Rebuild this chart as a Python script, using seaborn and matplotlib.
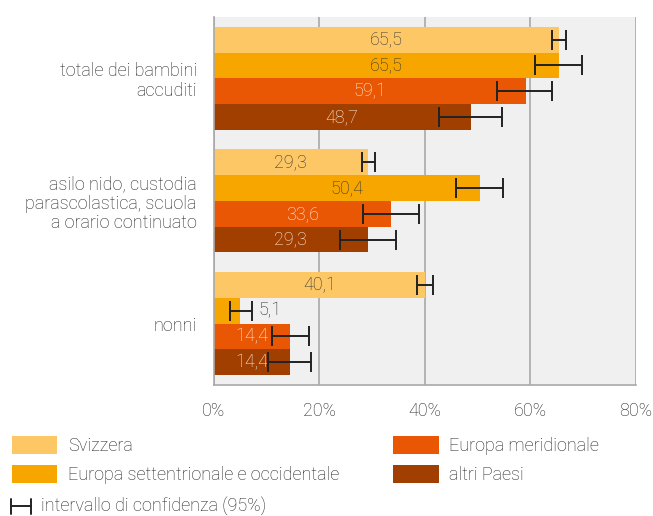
import numpy as np
import pandas as pd
import matplotlib
matplotlib.use('Agg')
import matplotlib.pyplot as plt
import seaborn as sns
from matplotlib.patches import Patch
from matplotlib.lines import Line2D

# Data
categories = ['totale dei bambini\naccuditi',
              'asilo nido, custodia\nparascolastica, scuola\na orario continuato',
              'nonni']
series = ['Svizzera', 'Europa settentrionale e occidentale', 'Europa meridionale', 'altri Paesi']
values = {
    'Svizzera': [65.5, 29.3, 40.1],
    'Europa settentrionale e occidentale': [65.5, 50.4, 5.1],
    'Europa meridionale': [59.1, 33.6, 14.4],
    'altri Paesi': [48.7, 29.3, 14.4],
}
ci_low = {
    'Svizzera': [64.0, 28.1, 38.6],
    'Europa settentrionale e occidentale': [60.9, 45.9, 3.2],
    'Europa meridionale': [53.7, 28.3, 11.0],
    'altri Paesi': [42.7, 24.0, 10.3],
}
ci_high = {
    'Svizzera': [66.7, 30.6, 41.5],
    'Europa settentrionale e occidentale': [69.8, 54.9, 7.3],
    'Europa meridionale': [64.1, 38.9, 18.0],
    'altri Paesi': [54.6, 34.6, 18.5],
}
colors = ['#FDC765', '#F7A600', '#E95704', '#A03F00']
label_colors = ['#333333', '#333333', '#FFF3EA', '#FFF3EA']

rows = []
for s in series:
    for c, v in zip(categories, values[s]):
        rows.append({'cat': c, 'series': s, 'val': v})
df = pd.DataFrame(rows)

sns.set_style('white')
plt.rcParams['font.family'] = ['Roboto', 'DejaVu Sans']
plt.rcParams['font.weight'] = 'light'
FS = 13
TXT = '#222222'

fig = plt.figure(figsize=(6.53, 5.16), dpi=100)
ax = fig.add_axes([0.327, 0.254, 0.647, 0.713])
ax.set_facecolor('#F0F0F0')

sns.barplot(data=df, y='cat', x='val', hue='series', hue_order=series,
            order=categories, palette=colors, width=0.84, orient='h',
            saturation=1, ax=ax, legend=False, linewidth=0)

# error bars and labels
for si, s in enumerate(series):
    cont = ax.containers[si]
    for ci, bar in enumerate(cont.patches):
        yc = bar.get_y() + bar.get_height() / 2
        v = values[s][ci]
        lo, hi = ci_low[s][ci], ci_high[s][ci]
        ax.errorbar(v, yc, xerr=[[v - lo], [hi - v]], fmt='none',
                    ecolor='#222222', elinewidth=1.4, capsize=7, capthick=1.4, zorder=5)
        txt = f'{v:.1f}'.replace('.', ',')
        if v < 10:
            ax.text(hi + 1.2, yc, txt, ha='left', va='center', fontsize=FS,
                    color=TXT)
        else:
            ax.text(v / 2, yc, txt, ha='center', va='center', fontsize=FS,
                    color=label_colors[si])

ax.set_xlim(0, 80)
ax.set_ylim(2.5, -0.5)
ax.set_xticks([0, 20, 40, 60, 80])
ax.set_xticklabels(['0%', '20%', '40%', '60%', '80%'])
ax.grid(axis='x', color='#A8A8A8', linewidth=1.2)
ax.set_axisbelow(True)
ax.set_xlabel('')
ax.set_ylabel('')
for side in ['top', 'right']:
    ax.spines[side].set_visible(False)
ax.spines['left'].set_color('#A8A8A8')
ax.spines['bottom'].set_color('#A8A8A8')
ax.spines['left'].set_linewidth(1.2)
ax.spines['bottom'].set_linewidth(1.2)
ax.tick_params(axis='x', length=4, color='#A8A8A8', width=1.2, labelsize=FS,
               labelcolor=TXT, pad=8)
ax.tick_params(axis='y', length=0, labelsize=FS, labelcolor=TXT, pad=12)
for lab in ax.get_yticklabels():
    lab.set_horizontalalignment('right')
    lab.set_multialignment('right')
    lab.set_linespacing(1.1)

# legend
handles = [Patch(facecolor=c, edgecolor='none', label=s) for c, s in zip(colors, series)]
leg = fig.legend(handles=handles, ncol=2, loc='upper left',
                 bbox_to_anchor=(12 / 653, 1 - 436 / 516), frameon=False, fontsize=FS,
                 handlelength=2.5, handleheight=1.15, handletextpad=0.6,
                 columnspacing=3.0, labelspacing=0.53, borderpad=0,
                 borderaxespad=0)
for t in leg.get_texts():
    t.set_color(TXT)

# confidence interval key
y0 = 1 - 506 / 516
fig.add_artist(Line2D([11 / 653, 31 / 653], [y0, y0], color='#222222', lw=1.4))
fig.add_artist(Line2D([11 / 653, 11 / 653], [y0 - 7.5 / 516, y0 + 7.5 / 516], color='#222222', lw=1.4))
fig.add_artist(Line2D([31 / 653, 31 / 653], [y0 - 7.5 / 516, y0 + 7.5 / 516], color='#222222', lw=1.4))
fig.text(41 / 653, y0, 'intervallo di confidenza (95%)', fontsize=FS,
         va='center', color=TXT)

plt.savefig('out.png', dpi=100)
